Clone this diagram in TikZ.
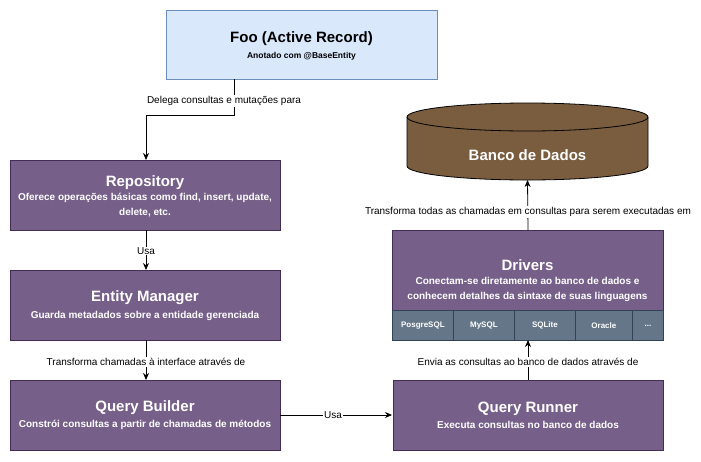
\documentclass[tikz,border=0pt]{standalone}
\usepackage{fontspec}
\setmainfont{Liberation Sans}
\usetikzlibrary{arrows.meta,shapes.geometric}
\definecolor{purp}{HTML}{76608A}
\definecolor{purpd}{HTML}{432D57}
\definecolor{slate}{HTML}{647687}
\definecolor{slated}{HTML}{314354}
\definecolor{lblue}{HTML}{DAE8FC}
\definecolor{dblue}{HTML}{6C8EBF}
\definecolor{brown}{HTML}{7A5C3E}
\begin{document}
\begin{tikzpicture}[x=1pt,y=-1pt,
  box/.style={draw=purpd,fill=purp,line width=0.8pt,minimum width=270pt,minimum height=70pt,anchor=north west,inner sep=0pt},
  cell/.style={draw=slated,fill=slate,line width=0.8pt,minimum height=30pt,anchor=north west,inner sep=0pt,text=white,font=\fontsize{8}{9}\selectfont\bfseries},
  ttl/.style={text=white,font=\fontsize{15}{17}\selectfont\bfseries},
  sub/.style={text=white,font=\fontsize{10}{15}\selectfont\bfseries,align=center},
  lbl/.style={fill=white,inner sep=1pt,font=\fontsize{10}{12}\selectfont},
  arr/.style={draw=black,line width=0.8pt,-{Stealth[length=7pt,width=6pt]}}]
\useasboundingbox (0,0) rectangle (701,461);
% Foo
\node[draw=dblue,fill=lblue,line width=0.8pt,minimum width=271pt,minimum height=69pt,anchor=north west] (foo) at (166,10) {};
\node[font=\fontsize{15}{17}\selectfont\bfseries] (footitle) at (301.5,39) {Foo (Active Record)};
\node[font=\fontsize{8.5}{10}\selectfont\bfseries] (foosub) at (301.5,56) {Anotado com @BaseEntity};
% Left column
\node[box] (repo) at (10,160) {};
\node[ttl] (repot) at (145,183) {Repository};
\node[sub] (repos) at (145,205.5) {Oferece operações básicas como find, insert, update,\\delete, etc.};
\node[box] (em) at (10,270) {};
\node[ttl] (emt) at (145,298) {Entity Manager};
\node[sub] (ems) at (145,316) {Guarda metadados sobre a entidade gerenciada};
\node[box] (qb) at (10,380) {};
\node[ttl] (qbt) at (145,408) {Query Builder};
\node[sub] (qbs) at (145,425) {Constrói consultas a partir de chamadas de métodos};
% Right column
\node[box] (qr) at (393,380) {};
\node[ttl] (qrt) at (528,409) {Query Runner};
\node[sub] (qrs) at (528,425) {Executa consultas no banco de dados};
\node[box,minimum height=80pt,minimum width=271pt] (drv) at (392,230) {};
\node[ttl] (drvt) at (527.5,265) {Drivers};
\node[sub] (drvs) at (527.5,289) {Conectam-se diretamente ao banco de dados e\\conhecem detalhes da sintaxe de suas linguagens};
\node[cell,minimum width=61pt] (c1) at (392,310) {PosgreSQL};
\node[cell,minimum width=61pt] (c2) at (453,310) {MySQL};
\node[cell,minimum width=61pt] (c3) at (514,310) {SQLite};
\node[cell,minimum width=57pt] (c4) at (575,310) {Oracle};
\node[cell,minimum width=31pt] (c5) at (632,310) {...};
% Cylinder
\coordinate (cylb) at (527.5,180);
\fill[brown] (407,117) -- (407,166) arc[start angle=180,end angle=0,x radius=120.5,y radius=14] -- (648,117) arc[start angle=0,end angle=-180,x radius=120.5,y radius=14] -- cycle;
\draw[line width=0.8pt] (407,117) -- (407,166) arc[start angle=180,end angle=0,x radius=120.5,y radius=14] -- (648,117);
\draw[line width=0.8pt] (527.5,117) ellipse[x radius=120.5,y radius=14];
\node[ttl] (db) at (527.5,155) {Banco de Dados};
% Connectors
\coordinate (bend1) at (234,115);
\coordinate (bend2) at (146,115);
\draw[arr] (234,79) -- (bend1) -- (bend2) -- (146,160);
\node[lbl] (l1) at (224,101) {Delega consultas e mutações para};
\draw[arr] (146,230) -- (146,270);
\node[lbl] (l2) at (146,251) {Usa};
\draw[arr] (146,340) -- (146,380);
\node[lbl] (l3) at (146,362) {Transforma chamadas à interface através de};
\draw[arr] (280,415) -- (392,415);
\node[lbl] (l4) at (333,415) {Usa};
\draw[arr] (528,380) -- (528,340);
\node[lbl] (l5) at (528,362) {Envia as consultas ao banco de dados através de};
\draw[arr] (528,230) -- (cylb);
\node[lbl] (l6) at (528,212) {Transforma todas as chamadas em consultas para serem executadas em};
\end{tikzpicture}
\end{document}
